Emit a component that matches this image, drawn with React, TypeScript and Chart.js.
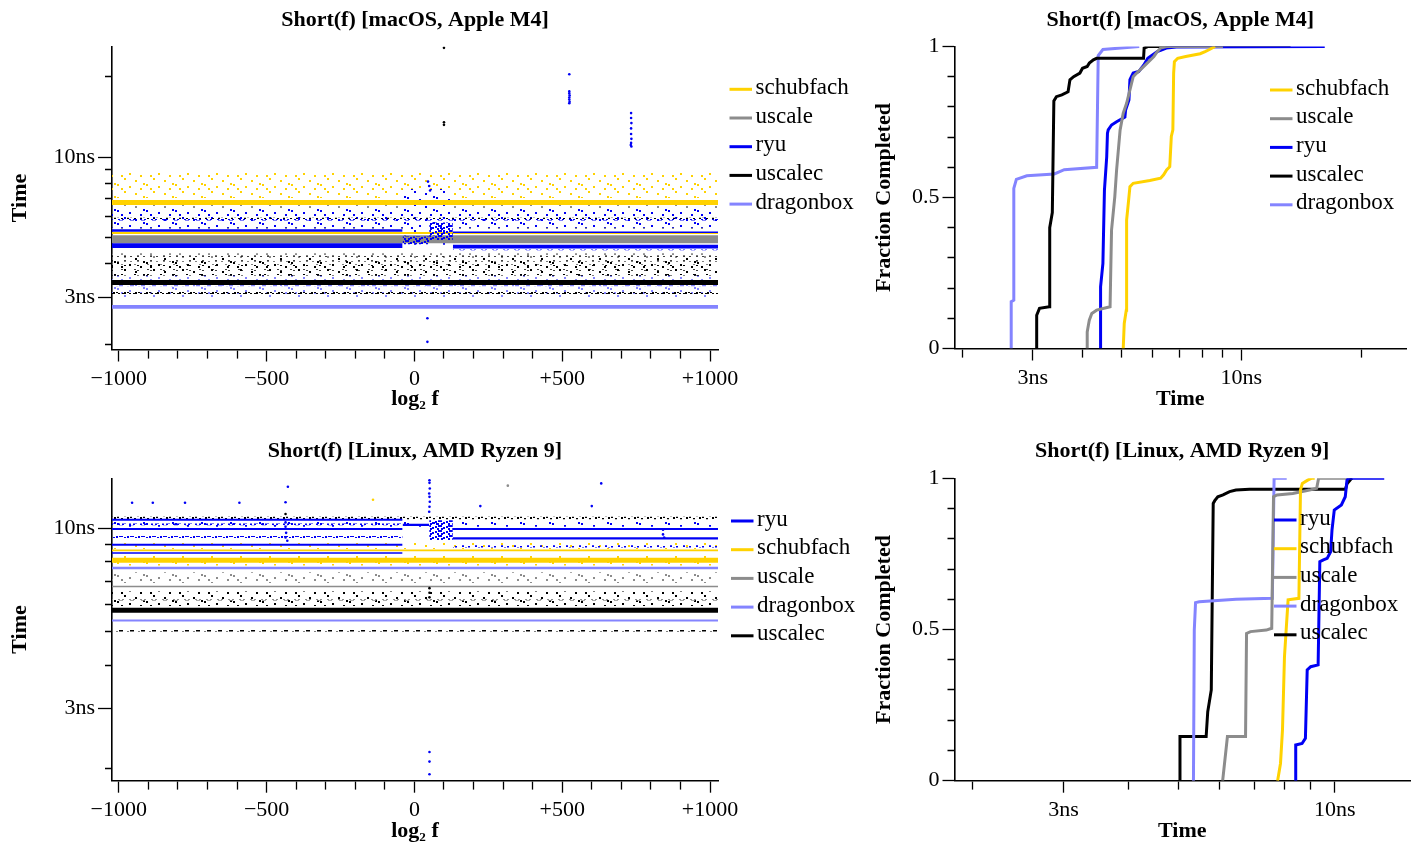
import React, { useEffect, useRef } from 'react';
import { Chart, registerables } from 'chart.js';

Chart.register(...registerables);

const SERIF = '"Liberation Serif", "Times New Roman", Times, serif';
Chart.defaults.font.family = SERIF;
Chart.defaults.color = '#000';

// ---------------- axis ranges & ticks ----------------
const LOG2F_MIN = -1023;
const LOG2F_MAX = 1027;
const MAC_NS_MIN = 1.91;
const MAC_NS_MAX = 25.9;
const LINUX_NS_MIN = 1.848;
const LINUX_NS_MAX = 13.97;

const LOG2F_TICKS = [-1000, -900, -800, -700, -600, -500, -400, -300, -200, -100, 0, 100, 200, 300, 400, 500, 600, 700, 800, 900, 1000];
const LOG2F_LABELED = [-1000, -500, 0, 500, 1000];
const NS_TICKS = [2, 3, 4, 5, 6, 7, 8, 9, 10, 20];
const NS_LABELED = [3, 10];
const FRAC_TICKS = [0, 0.1, 0.2, 0.3, 0.4, 0.5, 0.6, 0.7, 0.8, 0.9, 1];
const FRAC_LABELED = [0, 0.5, 1];

// ---------------- series ----------------
const MAC_LEGEND = ['schubfach', 'uscale', 'ryu', 'uscalec', 'dragonbox'];
const LINUX_LEGEND = ['ryu', 'schubfach', 'uscale', 'dragonbox', 'uscalec'];

// Scatter point clouds, read as bands: [algorithm, low ns, high ns, from log2 f, to log2 f, point density]
const MAC_BANDS: [string, number, number, number, number, string][] = [
  ['schubfach', 7.03, 8.72, -1023, 1027, 'sparse'],
  ['uscale', 5.35, 6.62, -1023, 1027, 'sparse'],
  ['ryu', 5.45, 6.45, -1023, 1027, 'sparse'],
  ['uscalec', 3.55, 4.35, -1023, 1027, 'sparse'],
  ['uscale', 4.2, 4.36, -1023, 1027, 'sparse'],
  ['dragonbox', 3.0, 3.6, -1023, 1027, 'sparse'],
  ['ryu', 4.7, 7.6, -40, 130, 'sparse'],
  ['ryu', 5.79, 5.87, -1023, 1027, 'dense'],
  ['uscalec', 5.87, 5.93, -1023, 1027, 'medium'],
  ['uscalec', 4.24, 4.29, -1023, 1027, 'medium'],
  ['uscalec', 4.07, 4.12, -1023, 1027, 'medium'],
  ['uscalec', 3.92, 3.97, -1023, 1027, 'medium'],
  ['uscalec', 3.76, 3.81, -1023, 1027, 'medium'],
  ['uscalec', 3.61, 3.66, -1023, 1027, 'medium'],
  ['schubfach', 6.62, 6.91, -1023, 1027, 'solid'],
  ['uscale', 4.77, 5.11, -1023, 1027, 'solid'],
  ['schubfach', 5.16, 5.25, -1023, 1027, 'solid'],
  ['ryu', 5.26, 5.38, -1023, -40, 'solid'],
  ['ryu', 5.21, 5.27, 130, 1027, 'solid'],
  ['ryu', 4.57, 4.77, -1023, -40, 'solid'],
  ['ryu', 4.72, 5.05, -40, 50, 'dense'],
  ['ryu', 4.9, 5.7, 50, 130, 'dense'],
  ['ryu', 4.55, 4.70, 130, 1027, 'solid'],
  ['dragonbox', 4.48, 4.56, 130, 1027, 'dense'],
  ['uscalec', 3.33, 3.47, -1023, 1027, 'solid'],
  ['dragonbox', 3.29, 3.33, -1023, 1027, 'dense'],
  ['uscalec', 3.08, 3.13, -1023, 1027, 'dense'],
  ['dragonbox', 2.71, 2.80, -1023, 1027, 'solid'],
];

const LINUX_BANDS: [string, number, number, number, number, string][] = [
  ['uscale', 6.94, 7.45, -1023, 1027, 'sparse'],
  ['uscale', 6.0, 6.5, -1023, 1027, 'sparse'],
  ['uscalec', 5.95, 6.55, -1023, 1027, 'sparse'],
  ['schubfach', 8.7, 9.1, -1023, 1027, 'sparse'],
  ['schubfach', 7.8, 8.35, -1023, 1027, 'sparse'],
  ['ryu', 10.1, 10.5, -1023, 1027, 'sparse'],
  ['uscalec', 10.62, 10.8, -1023, 1027, 'medium'],
  ['ryu', 10.52, 10.66, -1023, -40, 'solid'],
  ['ryu', 10.20, 10.32, -1023, -40, 'dense'],
  ['ryu', 9.88, 10.02, -1023, -40, 'solid'],
  ['ryu', 10.15, 10.3, -40, 50, 'solid'],
  ['ryu', 9.25, 10.55, 50, 130, 'dense'],
  ['ryu', 9.88, 10.02, 130, 1027, 'solid'],
  ['ryu', 9.37, 9.50, -1023, -40, 'dense'],
  ['ryu', 9.28, 9.42, 130, 1027, 'solid'],
  ['ryu', 8.89, 9.01, -1023, -40, 'solid'],
  ['ryu', 8.80, 8.92, 130, 1027, 'medium'],
  ['schubfach', 8.57, 8.67, -1023, 1027, 'solid'],
  ['ryu', 8.43, 8.52, -1023, -40, 'solid'],
  ['schubfach', 7.94, 8.21, -1023, 1027, 'solid'],
  ['dragonbox', 7.60, 7.73, -1023, 1027, 'solid'],
  ['uscale', 6.74, 6.81, -1023, 1027, 'solid'],
  ['uscale', 6.16, 6.23, -1023, 1027, 'dense'],
  ['uscalec', 5.68, 5.88, -1023, 1027, 'solid'],
  ['dragonbox', 5.36, 5.43, -1023, 1027, 'solid'],
  ['uscalec', 5.01, 5.06, -1023, 1027, 'dense'],
];

// Isolated points: [algorithm, log2 f, ns]
const MAC_OUTLIERS: [string, number, number][] = [
  ['uscalec', 100, 25.6], ['uscalec', 100, 13.5], ['uscalec', 100, 13.2],
  ['ryu', 524, 20.4], ['ryu', 524, 17.6], ['ryu', 524, 17.3], ['ryu', 525, 17.0], ['ryu', 524, 16.7],
  ['ryu', 524, 16.4], ['ryu', 525, 16.1], ['ryu', 524, 15.9],
  ['ryu', 733, 14.6], ['ryu', 733, 14.0], ['ryu', 734, 13.4], ['ryu', 733, 12.8], ['ryu', 733, 12.2],
  ['ryu', 734, 11.7], ['ryu', 733, 11.3], ['ryu', 732, 11.1], ['ryu', 734, 10.95],
  ['ryu', 44, 2.5], ['ryu', 44, 2.04],
  ['ryu', 46, 8.1], ['ryu', 50, 7.8], ['ryu', 53, 7.5],
];

const LINUX_OUTLIERS: [string, number, number][] = [
  ['ryu', 51, 13.79], ['ryu', 51, 13.55], ['ryu', 52, 13.05], ['ryu', 50, 12.62], ['ryu', 51, 12.34],
  ['ryu', 52, 11.94], ['ryu', 51, 11.55], ['ryu', 50, 11.17],
  ['ryu', 51, 2.24], ['ryu', 51, 2.1], ['ryu', 51, 1.93],
  ['ryu', -955, 11.86], ['ryu', -885, 11.86], ['ryu', -776, 11.86], ['ryu', -592, 11.86], ['ryu', -436, 11.9],
  ['ryu', -428, 13.2], ['ryu', 632, 13.5], ['ryu', 223, 11.6], ['ryu', 600, 11.6],
  ['schubfach', -140, 12.1], ['uscale', 316, 13.3], ['uscalec', -436, 11.0],
  ['ryu', -436, 10.4], ['ryu', -436, 10.1], ['ryu', -434, 9.7], ['ryu', -436, 9.4], ['ryu', -430, 9.2],
  ['ryu', 841, 9.9], ['ryu', 841, 9.6], ['ryu', 845, 9.4],
  ['uscalec', 51, 6.7], ['uscalec', 51, 6.5], ['uscalec', 51, 6.3],
];

// Cumulative distributions: [ns, fraction completed]
const MAC_CDF_SCHUBFACH = [[5.06, 0], [5.09, 0.083], [5.15, 0.127], [5.16, 0.425], [5.21, 0.48], [5.26, 0.536], [5.36, 0.547], [5.90, 0.556], [6.28, 0.564], [6.39, 0.575], [6.50, 0.591], [6.62, 0.602], [6.68, 0.702], [6.74, 0.724], [6.77, 0.912], [6.80, 0.95], [6.93, 0.961], [7.26, 0.967], [7.89, 0.976], [8.12, 0.983], [8.35, 0.991], [8.6, 1.0]];
const MAC_CDF_USCALE = [[4.11, 0], [4.11, 0.055], [4.16, 0.094], [4.22, 0.116], [4.34, 0.127], [4.69, 0.138], [4.73, 0.392], [4.82, 0.503], [4.87, 0.591], [4.97, 0.724], [5.06, 0.779], [5.16, 0.812], [5.26, 0.856], [5.36, 0.9], [5.47, 0.912], [5.70, 0.934], [6.04, 0.967], [6.16, 0.983], [6.28, 0.995], [6.5, 1.0], [9.0, 1.0]];
const MAC_CDF_RYU = [[4.44, 0], [4.44, 0.204], [4.50, 0.282], [4.54, 0.525], [4.57, 0.58], [4.60, 0.635], [4.62, 0.713], [4.64, 0.724], [4.73, 0.74], [4.87, 0.751], [5.11, 0.766], [5.13, 0.79], [5.23, 0.823], [5.26, 0.89], [5.36, 0.912], [5.53, 0.917], [5.70, 0.939], [5.83, 0.961], [6.16, 0.983], [6.49, 0.995], [6.88, 0.998], [16.2, 1.0]];
const MAC_CDF_USCALEC = [[3.07, 0], [3.07, 0.11], [3.12, 0.133], [3.30, 0.138], [3.31, 0.40], [3.36, 0.45], [3.39, 0.82], [3.44, 0.834], [3.55, 0.84], [3.68, 0.85], [3.72, 0.89], [3.80, 0.90], [3.94, 0.912], [4.0, 0.928], [4.11, 0.934], [4.16, 0.945], [4.26, 0.956], [4.34, 0.961], [5.69, 0.961], [5.71, 0.995], [5.83, 1.0], [13.3, 1.0]];
const MAC_CDF_DRAGONBOX = [[2.65, 0], [2.65, 0.155], [2.69, 0.16], [2.69, 0.53], [2.73, 0.56], [2.9, 0.572], [3.4, 0.578], [3.6, 0.592], [4.34, 0.6], [4.38, 0.97], [4.5, 0.99], [5.55, 1.0]];

const LINUX_CDF_RYU = [[8.41, 0], [8.41, 0.118], [8.65, 0.123], [8.78, 0.14], [8.85, 0.366], [8.99, 0.377], [9.29, 0.383], [9.36, 0.724], [9.51, 0.73], [9.67, 0.735], [9.82, 0.757], [9.88, 0.829], [9.98, 0.895], [10.3, 0.912], [10.48, 0.939], [10.56, 0.994], [10.64, 1.0], [12.46, 1.0]];
const LINUX_CDF_SCHUBFACH = [[7.76, 0], [7.86, 0.057], [7.93, 0.168], [8.00, 0.41], [8.06, 0.498], [8.13, 0.598], [8.53, 0.603], [8.59, 0.961], [8.66, 0.983], [8.87, 0.994], [9.01, 1.0], [9.15, 1.0]];
const LINUX_CDF_USCALE = [[6.08, 0], [6.21, 0.146], [6.73, 0.146], [6.76, 0.487], [6.88, 0.493], [7.38, 0.498], [7.56, 0.504], [7.62, 0.939], [7.74, 0.945], [8.30, 0.95], [8.94, 0.961], [9.23, 0.967], [9.31, 1.0], [10.66, 1.0]];
const LINUX_CDF_DRAGONBOX = [[5.34, 0], [5.36, 0.498], [5.39, 0.589], [5.48, 0.592], [6.45, 0.6], [7.58, 0.603], [7.64, 1.0], [8.08, 1.0]];
const LINUX_CDF_USCALEC = [[5.01, 0], [5.03, 0.146], [5.10, 0.146], [5.65, 0.146], [5.69, 0.228], [5.78, 0.30], [5.83, 0.917], [5.87, 0.926], [5.95, 0.939], [6.09, 0.945], [6.27, 0.956], [6.45, 0.961], [6.85, 0.964], [10.49, 0.964], [10.57, 0.983], [10.74, 0.997], [10.81, 1.0]];

const MAC_CDF: [string, number[][]][] = [
  ['schubfach', MAC_CDF_SCHUBFACH], ['uscale', MAC_CDF_USCALE], ['ryu', MAC_CDF_RYU],
  ['uscalec', MAC_CDF_USCALEC], ['dragonbox', MAC_CDF_DRAGONBOX],
];
const LINUX_CDF: [string, number[][]][] = [
  ['ryu', LINUX_CDF_RYU], ['schubfach', LINUX_CDF_SCHUBFACH], ['uscale', LINUX_CDF_USCALE],
  ['dragonbox', LINUX_CDF_DRAGONBOX], ['uscalec', LINUX_CDF_USCALEC],
];

// ---------------- styles ----------------
const COLORS: Record<string, string> = {
  schubfach: '#FFD200',
  uscale: '#8C8C8C',
  ryu: '#0000F5',
  uscalec: '#000000',
  dragonbox: '#8484FF',
};

// Fixed stipple tiles used to render point clouds of different density.
const DOT_TILES: Record<string, { w: number; h: number; dots: number[][] }> = {
  dense: { w: 11, h: 5, dots: [[0, 0], [3, 2], [6, 1], [8, 3], [1, 3], [9, 0]] },
  medium: { w: 13, h: 5, dots: [[0, 1], [4, 3], [7, 0], [10, 2]] },
  sparse: { w: 29, h: 13, dots: [[1, 2], [8, 9], [13, 4], [19, 11], [24, 6], [27, 1], [5, 6]] },
};

function densityFill(color: string, density: string): any {
  if (density === 'solid') return color;
  const t = DOT_TILES[density];
  const c = document.createElement('canvas');
  c.width = t.w;
  c.height = t.h;
  const g = c.getContext('2d')!;
  g.fillStyle = color;
  t.dots.forEach(([x, y]) => g.fillRect(x, y, 2, 2));
  return g.createPattern(c, 'repeat');
}

const fmtLog2 = (v: number) => (v === 0 ? '0' : v > 0 ? '+' + v : '\u2212' + Math.abs(v));

function minorDash(labeled: number[], major: number, minor: number, outerFirst: boolean) {
  return (c: any) => {
    const v = c.tick ? c.tick.value : undefined;
    if (v === undefined || labeled.includes(v)) return [];
    return outerFirst ? [0, major - minor, 100, 0] : [minor, 100];
  };
}

function axis(o: {
  pos: 'left' | 'bottom'; type: string; min: number; max: number; ticks: number[]; labeled: number[];
  fmt: (v: number) => string; title: string; size: number; titlePad: number; major: number; minor: number;
}) {
  const horizontal = o.pos === 'bottom';
  return {
    type: o.type,
    position: o.pos,
    min: o.min,
    max: o.max,
    afterBuildTicks: (s: any) => {
      s.ticks = o.ticks.filter((v) => v >= o.min && v <= o.max).map((v) => ({ value: v }));
    },
    afterFit: (s: any) => {
      if (horizontal) s.height = o.size;
      else s.width = o.size;
    },
    ticks: {
      autoSkip: false,
      maxRotation: 0,
      minRotation: 0,
      padding: horizontal ? 4.5 : 3,
      color: '#000',
      font: { size: 22 },
      callback: (v: number) => (o.labeled.includes(v) ? o.fmt(v) : ''),
    },
    grid: {
      display: true,
      drawOnChartArea: false,
      drawTicks: true,
      tickLength: o.major,
      tickWidth: 1.3,
      tickColor: '#000',
      tickBorderDash: minorDash(o.labeled, o.major, o.minor, !horizontal),
    },
    border: { display: true, color: '#000', width: 1.6 },
    title: {
      display: true,
      text: o.title,
      color: '#000',
      font: { size: 22, weight: 'bold' },
      padding: horizontal ? { top: 0, bottom: o.titlePad } : { top: o.titlePad, bottom: 0 },
    },
  };
}

function sideLegend(names: string[], left: number, top: number) {
  return {
    id: 'sideLegend',
    afterDatasetsDraw(chart: any) {
      const ctx = chart.ctx;
      ctx.save();
      ctx.font = `23px ${SERIF}`;
      ctx.textBaseline = 'middle';
      ctx.textAlign = 'left';
      names.forEach((name, i) => {
        const y = top + i * 28.7;
        ctx.setLineDash([]);
        ctx.strokeStyle = COLORS[name];
        ctx.lineWidth = 3;
        ctx.beginPath();
        ctx.moveTo(left, y);
        ctx.lineTo(left + 22.5, y);
        ctx.stroke();
        ctx.fillStyle = '#000';
        ctx.fillText(name, left + 26, y - 1.5);
      });
      ctx.restore();
    },
  };
}

type Layout = { w: number; h: number; areaLeft: number; areaTop: number; areaRight: number; areaBottom: number;
  titleTop: number; yTitleCenter: number; xTitleCenter: number; legendLeft: number; legendTop: number };

function baseOptions(L: Layout, title: string, scales: any) {
  const titleBottom = L.areaTop - L.titleTop - 26.4;
  return {
    responsive: false,
    animation: false,
    events: [],
    layout: { padding: { left: 0, top: 0, bottom: 0, right: L.w - L.areaRight } },
    plugins: {
      legend: { display: false },
      tooltip: { enabled: false },
      title: {
        display: true,
        text: title,
        fullSize: false,
        color: '#000',
        font: { size: 22, weight: 'bold' },
        padding: { top: L.titleTop, bottom: titleBottom },
      },
    },
    scales,
  };
}

function scatterConfig(L: Layout, title: string, bands: any[], outliers: any[], nsMin: number, nsMax: number, legend: string[]) {
  const bandSets = bands.map(([alg, lo, hi, from, to, density]) => ({
    data: [{ x: from, y: hi }, { x: to, y: hi }],
    borderColor: 'rgba(0,0,0,0)',
    borderWidth: 0,
    pointRadius: 0,
    backgroundColor: densityFill(COLORS[alg], density),
    fill: { value: lo },
  }));
  const algs = Array.from(new Set(outliers.map((o) => o[0])));
  const pointSets = algs.map((alg) => ({
    data: outliers.filter((o) => o[0] === alg).map((o) => ({ x: o[1], y: o[2] })),
    showLine: false,
    fill: false,
    pointRadius: 1.3,
    pointBorderWidth: 0,
    pointBackgroundColor: COLORS[alg],
    borderColor: COLORS[alg],
  }));
  // Chart.js paints the first dataset last, so reverse to keep the listed paint order.
  const datasets = [...bandSets, ...pointSets].reverse();
  const scales = {
    x: axis({ pos: 'bottom', type: 'linear', min: LOG2F_MIN, max: LOG2F_MAX, ticks: LOG2F_TICKS, labeled: LOG2F_LABELED,
      fmt: fmtLog2, title: 'log\u2082 f', size: L.h - L.areaBottom, titlePad: L.h - L.xTitleCenter - 13.2, major: 12, minor: 8 }),
    y: axis({ pos: 'left', type: 'logarithmic', min: nsMin, max: nsMax, ticks: NS_TICKS, labeled: NS_LABELED,
      fmt: (v) => v + 'ns', title: 'Time', size: L.areaLeft, titlePad: L.yTitleCenter - 13.2, major: 14, minor: 7 }),
  };
  return {
    type: 'line',
    data: { datasets },
    options: baseOptions(L, title, scales),
    plugins: [sideLegend(legend, L.legendLeft, L.legendTop)],
  };
}

function cdfConfig(L: Layout, title: string, series: [string, number[][]][], nsMin: number, nsMax: number, legend: string[]) {
  const datasets = series.map(([name, pts]) => ({
    label: name,
    data: pts.map(([x, y]) => ({ x, y })),
    borderColor: COLORS[name],
    borderWidth: 3,
    pointRadius: 0,
    fill: false,
    tension: 0,
  }));
  const scales = {
    x: axis({ pos: 'bottom', type: 'logarithmic', min: nsMin, max: nsMax, ticks: NS_TICKS, labeled: NS_LABELED,
      fmt: (v) => v + 'ns', title: 'Time', size: L.h - L.areaBottom, titlePad: L.h - L.xTitleCenter - 13.2, major: 12, minor: 8 }),
    y: axis({ pos: 'left', type: 'linear', min: 0, max: 1, ticks: FRAC_TICKS, labeled: FRAC_LABELED,
      fmt: (v) => String(v), title: 'Fraction Completed', size: L.areaLeft, titlePad: L.yTitleCenter - 13.2, major: 12, minor: 7 }),
  };
  return {
    type: 'line',
    data: { datasets },
    options: baseOptions(L, title, scales),
    plugins: [sideLegend(legend, L.legendLeft, L.legendTop)],
  };
}

function Panel({ x, y, L, build }: { x: number; y: number; L: Layout; build: (L: Layout) => any }) {
  const ref = useRef<HTMLCanvasElement>(null);
  useEffect(() => {
    const chart = new Chart(ref.current as HTMLCanvasElement, build(L) as any);
    return () => chart.destroy();
  }, []);
  return (
    <canvas
      ref={ref}
      width={L.w}
      height={L.h}
      style={{ position: 'absolute', left: x, top: y, width: L.w, height: L.h }}
    />
  );
}

const TL: Layout = { w: 860, h: 430, areaLeft: 112, areaTop: 46.5, areaRight: 718, areaBottom: 349.5,
  titleTop: 7, yTitleCenter: 20.5, xTitleCenter: 399.5, legendLeft: 729.5, legendTop: 89.3 };
const TR: Layout = { w: 556, h: 430, areaLeft: 94.5, areaTop: 46.5, areaRight: 546, areaBottom: 348.5,
  titleTop: 7, yTitleCenter: 24, xTitleCenter: 399.5, legendLeft: 410, legendTop: 90 };
const BL: Layout = { w: 860, h: 415, areaLeft: 112, areaTop: 48.3, areaRight: 718, areaBottom: 350.7,
  titleTop: 8.5, yTitleCenter: 20.5, xTitleCenter: 401, legendLeft: 731, legendTop: 91 };
const BR: Layout = { w: 556, h: 415, areaLeft: 94.5, areaTop: 48.3, areaRight: 550, areaBottom: 350.7,
  titleTop: 8.5, yTitleCenter: 24, xTitleCenter: 401, legendLeft: 414, legendTop: 90 };

export default function App() {
  return (
    <div style={{ position: 'absolute', left: 0, top: 0, width: 1416, height: 845, background: '#fff', overflow: 'hidden' }}>
      <Panel x={0} y={0} L={TL}
        build={(L) => scatterConfig(L, 'Short(f) [macOS, Apple M4]', MAC_BANDS, MAC_OUTLIERS, MAC_NS_MIN, MAC_NS_MAX, MAC_LEGEND)} />
      <Panel x={860} y={0} L={TR}
        build={(L) => cdfConfig(L, 'Short(f) [macOS, Apple M4]', MAC_CDF, MAC_NS_MIN, MAC_NS_MAX, MAC_LEGEND)} />
      <Panel x={0} y={430} L={BL}
        build={(L) => scatterConfig(L, 'Short(f) [Linux, AMD Ryzen 9]', LINUX_BANDS, LINUX_OUTLIERS, LINUX_NS_MIN, LINUX_NS_MAX, LINUX_LEGEND)} />
      <Panel x={860} y={430} L={BR}
        build={(L) => cdfConfig(L, 'Short(f) [Linux, AMD Ryzen 9]', LINUX_CDF, LINUX_NS_MIN, LINUX_NS_MAX, LINUX_LEGEND)} />
    </div>
  );
}
